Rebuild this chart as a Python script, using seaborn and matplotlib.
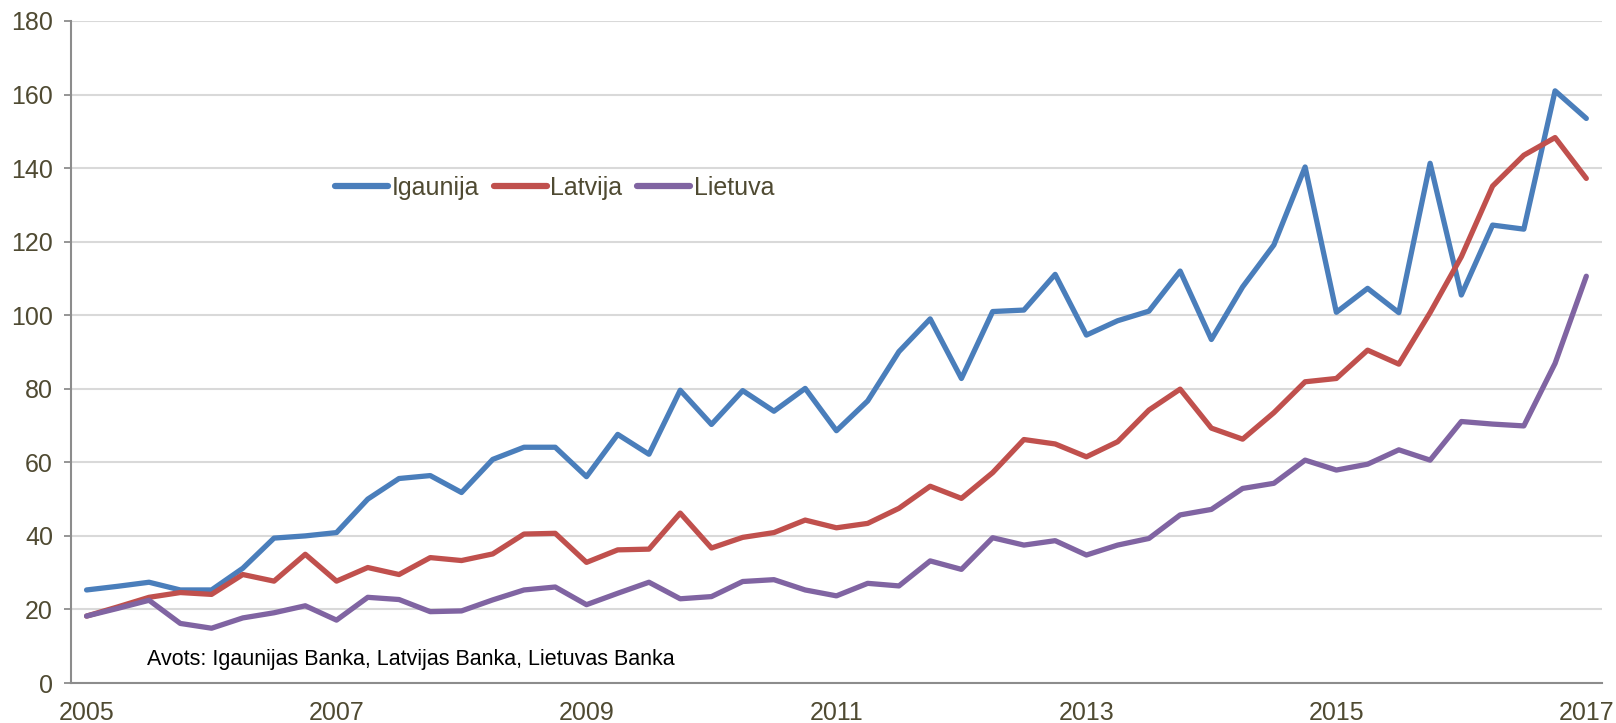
import pandas as pd
import numpy as np
import matplotlib
matplotlib.use("Agg")
import matplotlib.pyplot as plt
import seaborn as sns

# quarterly, 2005 Q1 .. 2017 Q1
quarters = [f"{y}Q{q}" for y in range(2005, 2018) for q in range(1, 5)][:49]

igaunija = [25.3, 26.3, 27.4, 25.3, 25.3, 31.2, 39.4, 40.0, 40.9, 50.0, 55.6, 56.4,
            51.8, 60.8, 64.1, 64.1, 56.1, 67.6, 62.2, 79.6, 70.3, 79.5, 73.9, 80.1,
            68.6, 76.7, 90.1, 99.0, 82.8, 101.0, 101.4, 111.1, 94.6, 98.5, 101.1, 112.0,
            93.4, 107.7, 119.1, 140.3, 100.8, 107.3, 100.7, 141.3, 105.5, 124.5, 123.4, 161.0,
            153.5]
latvija = [18.2, 20.7, 23.3, 24.6, 24.1, 29.5, 27.7, 35.0, 27.7, 31.4, 29.5, 34.1,
           33.3, 35.1, 40.5, 40.7, 32.8, 36.2, 36.4, 46.2, 36.7, 39.6, 40.9, 44.3,
           42.2, 43.4, 47.5, 53.5, 50.2, 57.2, 66.2, 65.0, 61.5, 65.6, 74.2, 79.9,
           69.3, 66.3, 73.5, 81.9, 82.8, 90.5, 86.7, 100.7, 115.9, 135.1, 143.5, 148.3,
           137.2]
lietuva = [18.2, 20.3, 22.5, 16.2, 14.9, 17.7, 19.1, 21.0, 17.1, 23.3, 22.7, 19.4,
           19.6, 22.6, 25.3, 26.1, 21.3, 24.4, 27.4, 22.9, 23.5, 27.6, 28.1, 25.3,
           23.7, 27.1, 26.4, 33.2, 30.9, 39.5, 37.5, 38.7, 34.8, 37.5, 39.3, 45.7,
           47.2, 52.9, 54.3, 60.6, 57.9, 59.5, 63.4, 60.6, 71.1, 70.4, 69.9, 86.9,
           110.6]

series = ["Igaunija", "Latvija", "Lietuva"]
colors = ["#4A7EBB", "#C0504D", "#8064A2"]
year_labels = ["2005", "2007", "2009", "2011", "2013", "2015", "2017"]
source = "Avots: Igaunijas Banka, Latvijas Banka, Lietuvas Banka"

df = pd.DataFrame({
    "idx": np.tile(np.arange(len(quarters)), 3),
    "value": igaunija + latvija + lietuva,
    "valsts": np.repeat(series, len(quarters)),
})

sns.set_theme(style="white")
plt.rcParams["font.family"] = ["Liberation Sans", "DejaVu Sans"]
txt_color = "#4F4A32"

fig = plt.figure(figsize=(16.16, 7.23), dpi=100)
ax = fig.add_axes([0.0439, 0.0553, 0.9474, 0.9157])

sns.lineplot(data=df, x="idx", y="value", hue="valsts", palette=colors,
             linewidth=3.8, ax=ax, legend=False)

ax.set_xlim(-0.5, len(quarters) - 0.5)
ax.set_ylim(0, 180)
ax.set_yticks(range(0, 181, 20))
ax.yaxis.grid(True, color="#D9D9D9", linewidth=1.5)
ax.set_axisbelow(True)

# year boundary tick marks, labels every second year
ax.set_xticks(np.arange(-0.5, len(quarters), 4), minor=True)
ax.set_xticks(np.arange(0, len(quarters), 8))
ax.set_xticklabels(year_labels)
ax.tick_params(axis="x", which="major", length=0, pad=13, labelsize=18, labelcolor=txt_color)
ax.tick_params(axis="x", which="minor", length=6, width=1.3, color="#8C8C8C", direction="out")
ax.tick_params(axis="y", length=5, width=1.3, color="#8C8C8C", pad=8, labelsize=18,
               labelcolor=txt_color, left=True)
ax.set_xlabel("")
ax.set_ylabel("")

for s in ["top", "right"]:
    ax.spines[s].set_visible(False)
for s in ["left", "bottom"]:
    ax.spines[s].set_color("#8C8C8C")
    ax.spines[s].set_linewidth(1.5)

handles = [plt.Line2D([], [], color=c, linewidth=4.5, solid_capstyle="round") for c in colors]
ax.legend(handles, series, loc="center left", bbox_to_anchor=(0.158, 0.748), ncol=3,
          frameon=False, fontsize=18, labelcolor=txt_color, handlelength=2.1,
          handletextpad=0.15, columnspacing=0.6)

ax.text(0.05, 0.027, source, transform=ax.transAxes, fontsize=15.5, color="black",
        ha="left", va="baseline")

fig.savefig("out.png", dpi=100)
